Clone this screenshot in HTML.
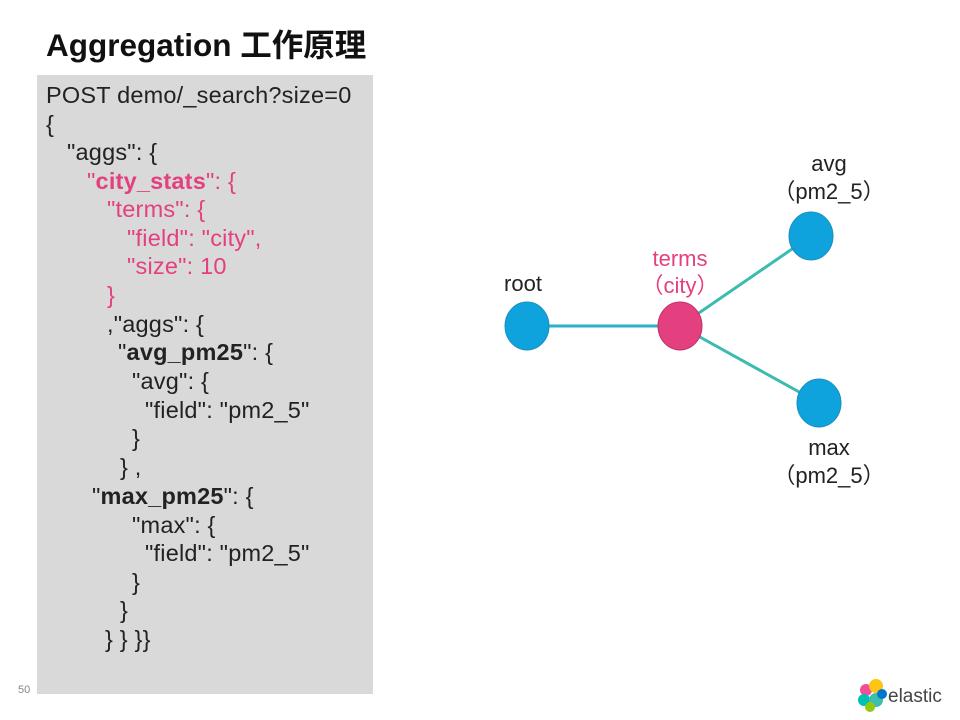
<!DOCTYPE html>
<html><head><meta charset="utf-8"><style>
body{margin:0;width:960px;height:720px;background:#fff;position:relative;overflow:hidden;font-family:"Liberation Sans","Noto Sans CJK SC",sans-serif}
.t{position:absolute;left:46px;top:20px;font-size:31.5px;font-weight:bold;color:#111;white-space:nowrap}
.box{position:absolute;left:37px;top:75px;width:336px;height:619px;background:#d9d9d9}
.l{position:absolute;font-size:23.5px;color:#222;white-space:pre;line-height:28px;letter-spacing:0.2px}
.p{color:#e4407f}
b{font-weight:bold}
.n{position:absolute;font-size:11px;color:#888;left:18px;top:684px}
</style></head><body>
<div class="t">Aggregation 工作原理</div>
<div class="box"></div>
<div class="l" style="left:46px;top:81px">POST demo/_search?size=0</div>
<div class="l" style="left:46px;top:110px">{</div>
<div class="l" style="left:67px;top:138px">"aggs": {</div>
<div class="l p" style="left:87px;top:167px">"<b>city_stats</b>": {</div>
<div class="l p" style="left:107px;top:195px">"terms": {</div>
<div class="l p" style="left:127px;top:224px">"field": "city",</div>
<div class="l p" style="left:127px;top:252px">"size": 10</div>
<div class="l p" style="left:107px;top:281px">}</div>
<div class="l" style="left:107px;top:310px">,"aggs": {</div>
<div class="l" style="left:118px;top:338px">"<b>avg_pm25</b>": {</div>
<div class="l" style="left:132px;top:367px">"avg": {</div>
<div class="l" style="left:145px;top:396px">"field": "pm2_5"</div>
<div class="l" style="left:132px;top:424px">}</div>
<div class="l" style="left:120px;top:453px">} ,</div>
<div class="l" style="left:92px;top:482px">"<b>max_pm25</b>": {</div>
<div class="l" style="left:132px;top:511px">"max": {</div>
<div class="l" style="left:145px;top:539px">"field": "pm2_5"</div>
<div class="l" style="left:132px;top:568px">}</div>
<div class="l" style="left:120px;top:596px">}</div>
<div class="l" style="left:105px;top:625px">} } }}</div>
<div class="n">50</div>
<svg width="960" height="720" style="position:absolute;left:0;top:0">
<g stroke="#3cbcb0" stroke-width="3">
<line x1="527" y1="326" x2="680" y2="326" stroke="#2bb0c8"/>
<line x1="680" y1="326" x2="811" y2="236"/>
<line x1="680" y1="326" x2="819" y2="403"/>
</g>
<g fill="#0ea3dc" stroke="#1a8fc0" stroke-width="1">
<ellipse cx="527" cy="326" rx="22" ry="24"/>
<ellipse cx="811" cy="236" rx="22" ry="24"/>
<ellipse cx="819" cy="403" rx="22" ry="24"/>
</g>
<ellipse cx="680" cy="326" rx="22" ry="24" fill="#e4407f" stroke="#c0306a"/>
<g font-family="Liberation Sans, Noto Sans CJK SC, sans-serif" font-size="22" text-anchor="middle" fill="#222">
<text x="523" y="291">root</text>
<text x="680" y="266" fill="#e4407f">terms</text>
<text x="680" y="293" fill="#e4407f">（city）</text>
<text x="829" y="171">avg</text>
<text x="829" y="199">（pm2_5）</text>
<text x="829" y="455">max</text>
<text x="829" y="483">（pm2_5）</text>
</g>
<g>
<circle cx="866" cy="690" r="6" fill="#f04e98"/>
<circle cx="876" cy="686" r="7" fill="#fec514"/>
<circle cx="864" cy="700" r="6" fill="#00bfb3"/>
<circle cx="876" cy="700" r="7" fill="#3ebeb0"/>
<circle cx="882" cy="694" r="5" fill="#07c"/>
<circle cx="870" cy="707" r="5" fill="#93c90e"/>
</g>
<text x="888" y="702" font-family="Liberation Sans, sans-serif" font-size="19" fill="#444">elastic</text>
</svg>
</body></html>
